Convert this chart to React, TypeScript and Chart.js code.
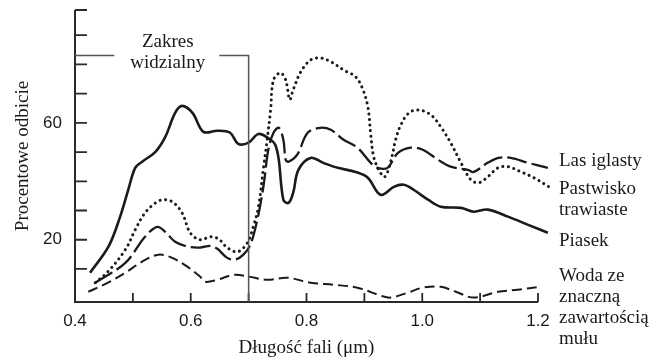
import React, { useEffect, useRef } from 'react';
import { Chart, registerables } from 'chart.js';

Chart.register(...registerables);

// ---- Data (wavelength in µm, reflectance in %) ----
const piasekX = [0.426, 0.458, 0.478, 0.492, 0.504, 0.516, 0.539, 0.556, 0.573, 0.585, 0.603, 0.622, 0.646, 0.668, 0.682, 0.700, 0.717, 0.738, 0.746, 0.752, 0.760, 0.769, 0.777, 0.786, 0.807, 0.829, 0.854, 0.885, 0.906, 0.923, 0.932, 0.951, 0.968, 0.985, 1.010, 1.032, 1.067, 1.089, 1.113, 1.148, 1.183, 1.217];
const piasekY = [8.7, 17.7, 27.9, 37.1, 44.6, 46.7, 50.1, 55.2, 63.4, 65.8, 63.4, 56.9, 57.3, 56.6, 52.8, 53.2, 56.2, 54.2, 52.5, 47.5, 33.7, 32.6, 36.1, 43.9, 48.0, 46.3, 44.6, 43.2, 41.2, 36.1, 35.4, 38.1, 38.8, 37.1, 33.7, 31.3, 30.9, 29.6, 30.3, 27.9, 25.1, 22.4];

const lasX = [0.435, 0.487, 0.521, 0.542, 0.556, 0.573, 0.596, 0.616, 0.634, 0.646, 0.663, 0.677, 0.691, 0.703, 0.715, 0.726, 0.734, 0.743, 0.752, 0.760, 0.764, 0.769, 0.784, 0.802, 0.824, 0.842, 0.864, 0.888, 0.911, 0.923, 0.940, 0.958, 0.980, 1.001, 1.027, 1.049, 1.079, 1.089, 1.113, 1.132, 1.153, 1.183, 1.217];
const lasY = [5.3, 12.1, 21.0, 24.4, 22.7, 19.3, 17.6, 17.3, 17.9, 16.9, 13.8, 13.2, 14.9, 18.3, 26.8, 38.8, 50.8, 56.6, 58.3, 54.2, 47.4, 46.7, 49.1, 56.6, 58.3, 57.6, 54.2, 51.5, 46.3, 44.6, 44.6, 49.7, 51.5, 50.8, 47.4, 45.0, 43.9, 43.2, 46.3, 48.0, 48.0, 46.3, 44.6];

const pastwiskoX = [0.435, 0.457, 0.487, 0.504, 0.521, 0.539, 0.552, 0.568, 0.585, 0.599, 0.616, 0.634, 0.648, 0.663, 0.681, 0.698, 0.708, 0.717, 0.726, 0.732, 0.738, 0.743, 0.755, 0.764, 0.771, 0.777, 0.790, 0.807, 0.824, 0.842, 0.864, 0.885, 0.897, 0.906, 0.911, 0.916, 0.925, 0.935, 0.945, 0.954, 0.963, 0.977, 0.994, 1.015, 1.032, 1.049, 1.067, 1.084, 1.098, 1.113, 1.131, 1.148, 1.171, 1.193, 1.219];
const pastwiskoY = [5.3, 9.1, 16.6, 23.4, 29.2, 32.6, 33.7, 33.0, 29.2, 22.4, 20.0, 21.0, 20.3, 17.3, 15.9, 19.0, 24.4, 31.3, 45.0, 54.2, 64.4, 74.7, 77.1, 74.7, 67.9, 71.3, 77.4, 81.5, 82.2, 80.9, 78.1, 75.7, 71.6, 65.5, 55.9, 48.4, 43.9, 41.5, 46.3, 54.2, 59.3, 63.4, 64.4, 62.7, 58.6, 53.2, 46.3, 40.5, 39.5, 41.5, 44.6, 45.0, 43.2, 41.2, 38.1];

const wodaX = [0.423, 0.457, 0.487, 0.516, 0.544, 0.568, 0.594, 0.616, 0.625, 0.646, 0.674, 0.700, 0.732, 0.767, 0.807, 0.847, 0.888, 0.928, 0.945, 0.975, 1.001, 1.032, 1.058, 1.089, 1.131, 1.165, 1.205];
const wodaY = [2.2, 5.3, 8.7, 12.5, 14.9, 13.8, 10.8, 7.4, 5.6, 6.3, 8.0, 7.4, 6.3, 7.0, 5.3, 4.6, 3.6, 0.9, 0.2, 1.9, 3.6, 3.9, 2.2, 0.2, 2.2, 2.9, 3.9];

const seriesLabels = [
  ['Las iglasty'],
  ['Pastwisko', 'trawiaste'],
  ['Piasek'],
  ['Woda ze', 'znaczną', 'zawartością', 'mułu'],
];

const xTickValues = [0.4, 0.5, 0.6, 0.7, 0.8, 0.9, 1.0, 1.1, 1.2];
const xTickLabels = ['0.4', '', '0.6', '', '0.8', '', '1.0', '', '1.2'];
const yTickValues = [10, 20, 30, 40, 50, 60, 70, 80, 90];
const yTickLabels = ['', '20', '', '', '', '60', '', '', ''];

const visibleRangeEnd = 0.7;
const visibleRangeLevel = 83;
const visibleRangeText = ['Zakres', 'widzialny'];

const xTitle = 'Długość fali (μm)';
const yTitle = 'Procentowe odbicie';

const pts = (xs: number[], ys: number[]) => xs.map((x, i) => ({ x, y: ys[i] }));

const SERIF = '"Liberation Serif", "Times New Roman", serif';
const SANS = '"Liberation Sans", Arial, sans-serif';
const INK = '#1a1a1a';

const decorPlugin = {
  id: 'decor',
  afterDraw(chart: any) {
    const { ctx, chartArea, scales } = chart;
    const xs = scales.x;
    const ys = scales.y;
    ctx.save();
    // axes
    ctx.strokeStyle = '#2a2a2a';
    ctx.lineWidth = 2;
    ctx.beginPath();
    ctx.moveTo(chartArea.left, chartArea.top);
    ctx.lineTo(chartArea.left, chartArea.bottom);
    ctx.lineTo(chartArea.right, chartArea.bottom);
    ctx.stroke();
    // inward ticks
    ctx.lineWidth = 1.8;
    ctx.beginPath();
    ys.ticks.forEach((t: any) => {
      const p = ys.getPixelForValue(t.value);
      ctx.moveTo(chartArea.left, p);
      ctx.lineTo(chartArea.left + 12, p);
    });
    ctx.moveTo(chartArea.left, chartArea.top);
    ctx.lineTo(chartArea.left + 12, chartArea.top);
    xs.ticks.forEach((t: any) => {
      const p = xs.getPixelForValue(t.value);
      ctx.moveTo(p, chartArea.bottom);
      ctx.lineTo(p, chartArea.bottom - 9);
    });
    ctx.stroke();

    // visible range bracket
    const xe = xs.getPixelForValue(visibleRangeEnd);
    const yl = ys.getPixelForValue(visibleRangeLevel);
    ctx.font = '19px ' + SERIF;
    const tw = Math.max(...visibleRangeText.map((t) => ctx.measureText(t).width));
    const cx = (chartArea.left + xe) / 2 + 6;
    const gap0 = cx - tw / 2 - 16;
    const gap1 = cx + tw / 2 + 14;
    ctx.strokeStyle = '#555';
    ctx.lineWidth = 1.5;
    ctx.beginPath();
    ctx.moveTo(chartArea.left, yl);
    ctx.lineTo(gap0, yl);
    ctx.moveTo(gap1, yl);
    ctx.lineTo(xe, yl);
    ctx.lineTo(xe, chartArea.bottom);
    ctx.stroke();
    ctx.fillStyle = INK;
    ctx.textAlign = 'center';
    ctx.textBaseline = 'middle';
    ctx.fillText(visibleRangeText[0], cx, yl - 14);
    ctx.fillText(visibleRangeText[1], cx, yl + 7);

    // series labels on the right
    const lx = chartArea.right + 21;
    const firstLineY = [161, 189, 241, 276];
    ctx.textAlign = 'left';
    seriesLabels.forEach((lines, i) => {
      lines.forEach((line, j) => {
        ctx.fillText(line, lx, firstLineY[i] + j * 21);
      });
    });
    ctx.restore();
  },
};

export default function App() {
  const ref = useRef<HTMLCanvasElement | null>(null);
  useEffect(() => {
    if (!ref.current) return;
    const common = { pointRadius: 0, pointHoverRadius: 0, tension: 0.35, fill: false, clip: false as any, borderColor: INK };
    const chart = new Chart(ref.current, {
      type: 'line',
      data: {
        datasets: [
          { ...common, label: 'Las iglasty', data: pts(lasX, lasY), borderWidth: 2.3, borderDash: [20, 5] },
          { ...common, label: 'Pastwisko trawiaste', data: pts(pastwiskoX, pastwiskoY), borderWidth: 3, borderDash: [0.1, 5.5], borderCapStyle: 'round' },
          { ...common, label: 'Piasek', data: pts(piasekX, piasekY), borderWidth: 2.6 },
          { ...common, label: 'Woda ze znaczną zawartością mułu', data: pts(wodaX, wodaY), borderWidth: 2, borderDash: [10, 5] },
        ] as any,
      },
      options: {
        animation: false,
        responsive: false,
        devicePixelRatio: 1,
        events: [],
        layout: { padding: { left: 0, right: 120, top: 10, bottom: 0 } },
        plugins: { legend: { display: false }, tooltip: { enabled: false } },
        scales: {
          x: {
            type: 'linear',
            min: 0.4,
            max: 1.2,
            afterBuildTicks: (s: any) => { s.ticks = xTickValues.map((v) => ({ value: v })); },
            afterFit: (s: any) => { s.height = 58; s.paddingLeft = 0; s.paddingRight = 0; },
            grid: { display: false, drawTicks: false },
            border: { display: false },
            ticks: {
              autoSkip: false,
              maxRotation: 0,
              padding: 9,
              color: INK,
              font: { family: SANS, size: 17 },
              callback: (_v: any, i: number) => xTickLabels[i],
            },
            title: { display: true, text: xTitle, color: INK, font: { family: SERIF, size: 19 }, padding: { top: 0, bottom: 1 } },
          },
          y: {
            type: 'linear',
            min: -1.3,
            max: 98.6,
            afterBuildTicks: (s: any) => { s.ticks = yTickValues.map((v) => ({ value: v })); },
            afterFit: (s: any) => { s.width = 75; s.paddingTop = 0; s.paddingBottom = 0; },
            grid: { display: false, drawTicks: false },
            border: { display: false },
            ticks: {
              autoSkip: false,
              padding: 13,
              color: INK,
              font: { family: SANS, size: 17 },
              callback: (_v: any, i: number) => yTickLabels[i],
            },
            title: { display: true, text: yTitle, color: INK, font: { family: SERIF, size: 19 }, padding: { top: 12, bottom: 0 } },
          },
        },
      },
      plugins: [decorPlugin],
    });
    return () => chart.destroy();
  }, []);
  return (
    <div style={{ position: 'absolute', left: 0, top: 0, width: 658, height: 360, background: '#fff' }}>
      <canvas ref={ref} width={658} height={360} />
    </div>
  );
}
